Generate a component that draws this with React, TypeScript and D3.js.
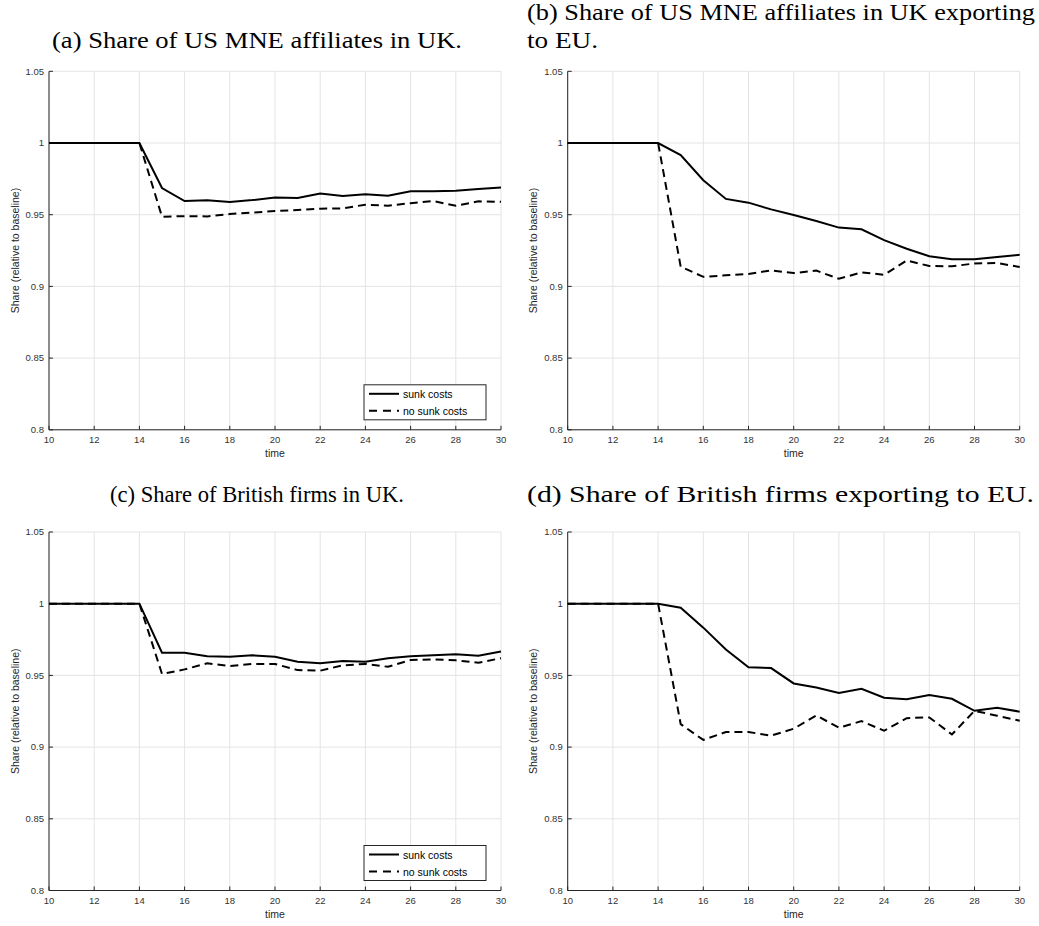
import React from "react";
import * as d3 from "d3";

// time axis and series
const time = [10, 11, 12, 13, 14, 15, 16, 17, 18, 19, 20, 21, 22, 23, 24, 25, 26, 27, 28, 29, 30];

const aSunk = [1, 1, 1, 1, 1, 0.9686, 0.9595, 0.96, 0.9588, 0.9602, 0.962, 0.9616, 0.9647, 0.963, 0.9642, 0.9633, 0.9663, 0.9663, 0.9667, 0.9679, 0.969];
const aNoSunk = [1, 1, 1, 1, 1, 0.9486, 0.949, 0.9488, 0.9505, 0.9514, 0.9526, 0.9533, 0.9542, 0.9544, 0.957, 0.9563, 0.958, 0.9595, 0.9563, 0.9593, 0.959];
const bSunk = [1, 1, 1, 1, 1, 0.9916, 0.974, 0.961, 0.9584, 0.9537, 0.9498, 0.9456, 0.941, 0.9398, 0.9323, 0.9263, 0.921, 0.919, 0.919, 0.9205, 0.922];
const bNoSunk = [1, 1, 1, 1, 1, 0.9137, 0.9067, 0.9077, 0.9086, 0.9112, 0.9093, 0.911, 0.9053, 0.9098, 0.9081, 0.9181, 0.9142, 0.914, 0.916, 0.9163, 0.9135];
const cSunk = [1, 1, 1, 1, 1, 0.9658, 0.9658, 0.9633, 0.963, 0.964, 0.963, 0.9595, 0.9584, 0.96, 0.9595, 0.962, 0.9633, 0.964, 0.9647, 0.9637, 0.9667];
const cNoSunk = [1, 1, 1, 1, 1, 0.951, 0.9542, 0.9584, 0.9565, 0.958, 0.958, 0.9537, 0.9533, 0.957, 0.958, 0.956, 0.9607, 0.9612, 0.9605, 0.9588, 0.962];
const dSunk = [1, 1, 1, 1, 1, 0.9972, 0.9833, 0.9681, 0.9556, 0.9551, 0.9444, 0.9416, 0.9377, 0.9407, 0.9344, 0.9333, 0.9363, 0.9337, 0.9253, 0.9274, 0.9247];
const dNoSunk = [1, 1, 1, 1, 1, 0.916, 0.905, 0.9105, 0.9105, 0.908, 0.9128, 0.9221, 0.9135, 0.9181, 0.9114, 0.9202, 0.9207, 0.9088, 0.9253, 0.9219, 0.9184];

const xTicks = [10, 12, 14, 16, 18, 20, 22, 24, 26, 28, 30];
const yTicks = [0.8, 0.85, 0.9, 0.95, 1, 1.05];
const legendLabels = ["sunk costs", "no sunk costs"];

const W = 1039, H = 926;
const tickFont = "Liberation Sans, Arial, sans-serif";
const titleFont = "Liberation Serif, Times New Roman, serif";

function Panel({ left, top, sunk, noSunk, legend }: any) {
  const w = 452, h = 358.5;
  const x = d3.scaleLinear().domain([10, 30]).range([left, left + w]);
  const y = d3.scaleLinear().domain([0.8, 1.05]).range([top + h, top]);
  const line = (vals: number[]) =>
    d3.line<number>().x((d, i) => x(time[i])).y(d => y(d))(vals) as string;
  const fmt = (v: number) => d3.format("~g")(v);
  return (
    <g>
      {xTicks.map(t => (
        <line key={"gx" + t} x1={x(t)} x2={x(t)} y1={top} y2={top + h} stroke="#e4e4e4" strokeWidth={1} />
      ))}
      {yTicks.map(t => (
        <line key={"gy" + t} x1={left} x2={left + w} y1={y(t)} y2={y(t)} stroke="#e4e4e4" strokeWidth={1} />
      ))}
      <line x1={left} x2={left} y1={top} y2={top + h} stroke="#262626" strokeWidth={1} />
      <line x1={left} x2={left + w} y1={top + h} y2={top + h} stroke="#262626" strokeWidth={1} />
      {xTicks.map(t => (
        <g key={"tx" + t}>
          <line x1={x(t)} x2={x(t)} y1={top + h} y2={top + h - 4} stroke="#262626" />
          <text x={x(t)} y={top + h + 13} textAnchor="middle" fontSize={9.5} fontFamily={tickFont} fill="#333">{t}</text>
        </g>
      ))}
      {yTicks.map(t => (
        <g key={"ty" + t}>
          <line x1={left} x2={left + 4} y1={y(t)} y2={y(t)} stroke="#262626" />
          <text x={left - 5} y={y(t) + 3.3} textAnchor="end" fontSize={9.5} fontFamily={tickFont} fill="#333">{fmt(t)}</text>
        </g>
      ))}
      <text x={left + w / 2} y={top + h + 27.5} textAnchor="middle" fontSize={10.5} fontFamily={tickFont} fill="#262626">time</text>
      <text transform={`translate(${left - 30.5},${top + h / 2}) rotate(-90)`} textAnchor="middle" fontSize={10.5} fontFamily={tickFont} fill="#262626">Share (relative to baseline)</text>
      <path d={line(noSunk)} fill="none" stroke="#000" strokeWidth={2} strokeDasharray="8,5" />
      <path d={line(sunk)} fill="none" stroke="#000" strokeWidth={2} />
      {legend && (
        <g>
          <rect x={left + 315} y={top + h - 45} width={122} height={35} fill="#fff" stroke="#262626" strokeWidth={1} />
          {legendLabels.map((l, i) => (
            <g key={l}>
              <line x1={left + 320} x2={left + 350} y1={top + h - 36 + i * 17} y2={top + h - 36 + i * 17}
                stroke="#000" strokeWidth={2} strokeDasharray={i === 1 ? "8,6" : undefined} />
              <text x={left + 354} y={top + h - 32 + i * 17} fontSize={10.5} fontFamily={tickFont} fill="#000">{l}</text>
            </g>
          ))}
        </g>
      )}
    </g>
  );
}

export default function App() {
  return (
    <svg width={W} height={H} style={{ position: "absolute", left: 0, top: 0, background: "#fff" }}>
      <text x={52} y={48} fontSize={23} fontFamily={titleFont} textLength={410} lengthAdjust="spacingAndGlyphs">(a) Share of US MNE affiliates in UK.</text>
      <text x={527} y={20} fontSize={23} fontFamily={titleFont} textLength={508} lengthAdjust="spacingAndGlyphs">(b) Share of US MNE affiliates in UK exporting</text>
      <text x={527} y={48} fontSize={23} fontFamily={titleFont} textLength={71} lengthAdjust="spacingAndGlyphs">to EU.</text>
      <text x={110} y={502} fontSize={23} fontFamily={titleFont} textLength={294} lengthAdjust="spacingAndGlyphs">(c) Share of British firms in UK.</text>
      <text x={527} y={502} fontSize={23} fontFamily={titleFont} textLength={507} lengthAdjust="spacingAndGlyphs">(d) Share of British firms exporting to EU.</text>
      <Panel left={49} top={71.3} sunk={aSunk} noSunk={aNoSunk} legend />
      <Panel left={567.7} top={71.3} sunk={bSunk} noSunk={bNoSunk} />
      <Panel left={49} top={532} sunk={cSunk} noSunk={cNoSunk} legend />
      <Panel left={567.7} top={532} sunk={dSunk} noSunk={dNoSunk} />
    </svg>
  );
}
